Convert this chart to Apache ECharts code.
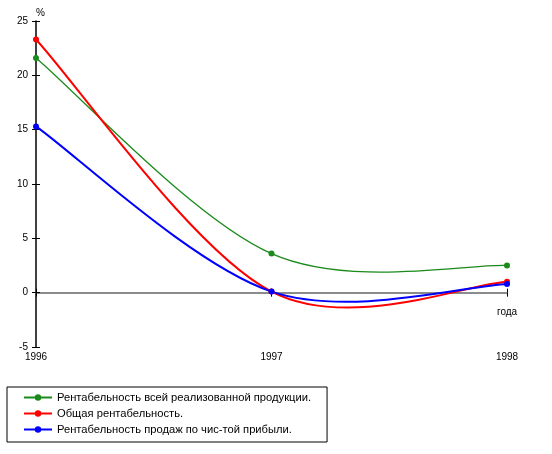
<!DOCTYPE html>
<html><head><meta charset="utf-8">
<script src="https://cdn.jsdelivr.net/npm/echarts@6/dist/echarts.min.js"></script>
<style>html,body{margin:0;padding:0;background:#fff}#c{width:552px;height:454px}</style>
</head><body><div id="c"></div>
<script>
const years = ['1996', '1997', '1998'];
const seriesNames = [
  'Рентабельность всей реализованной продукции.',
  'Общая рентабельность.',
  'Рентабельность продаж по чис-той прибыли.'
];
const greenValues = [21.6, 3.6, 2.5];
const redValues = [23.3, 0.1, 1.0];
const blueValues = [15.3, 0.1, 0.8];
const yTicks = { min: -5, max: 25, interval: 5 };

const font = 'Liberation Sans, Arial, sans-serif';
const chart = echarts.init(document.getElementById('c'));

// markers + legend entries (line itself drawn by the smooth custom series)
const mkPoints = (name, data, color, width) => ({
  name, type: 'line', data, smooth: false,
  symbol: 'circle', symbolSize: 6, showSymbol: true,
  lineStyle: { color, width, opacity: 0 }, itemStyle: { color }, z: 6
});
// Excel-like Catmull-Rom smoothed curve through the data, via the axis scales
const mkCurve = (name, vals, color, width) => ({
  name, type: 'custom', data: vals.map((v, i) => [i, v]), z: 5,
  silent: true,
  renderItem: (params, api) => {
    const i = params.dataIndex, n = vals.length;
    if (i >= n - 1) return null;
    const c = k => { k = Math.max(0, Math.min(n - 1, k)); return api.coord([k, vals[k]]); };
    const p0 = c(i - 1), p1 = c(i), p2 = c(i + 1), p3 = c(i + 2);
    return {
      type: 'bezierCurve',
      shape: {
        x1: p1[0], y1: p1[1], x2: p2[0], y2: p2[1],
        cpx1: p1[0] + (p2[0] - p0[0]) / 6, cpy1: p1[1] + (p2[1] - p0[1]) / 6,
        cpx2: p2[0] - (p3[0] - p1[0]) / 6, cpy2: p2[1] - (p3[1] - p1[1]) / 6
      },
      style: { stroke: color, lineWidth: width, fill: null }
    };
  }
});

chart.setOption({
  animation: false,
  textStyle: { fontFamily: font },
  grid: { left: 36, right: 45, top: 21, bottom: 107 },
  xAxis: [
    { type: 'category', data: years, boundaryGap: false, position: 'bottom',
      axisLine: { show: false, onZero: false }, axisTick: { show: false },
      axisLabel: { color: '#000', fontSize: 10, margin: 5, fontFamily: font } },
    { type: 'category', data: years, boundaryGap: false,
      axisLine: { show: true, onZero: true, lineStyle: { color: '#666', width: 1.5 } },
      axisTick: { show: true, inside: true, length: 4, lineStyle: { color: '#000' } },
      axisLabel: { show: false } },
    { type: 'category', data: years, boundaryGap: false,
      axisLine: { show: false, onZero: true },
      axisTick: { show: true, inside: false, length: 4, lineStyle: { color: '#000' } },
      axisLabel: { show: false } }
  ],
  yAxis: [
    { type: 'value', min: yTicks.min, max: yTicks.max, interval: yTicks.interval,
      name: '%', nameGap: 3, nameTextStyle: { color: '#000', fontSize: 10, fontFamily: font, align: 'left', padding: [0, 0, 0, 0] },
      axisLine: { show: true, lineStyle: { color: '#000', width: 1.5 } },
      axisTick: { show: true, length: 4, lineStyle: { color: '#000' } },
      axisLabel: { color: '#000', fontSize: 10, margin: 8, fontFamily: font },
      splitLine: { show: false } },
    { type: 'value', min: yTicks.min, max: yTicks.max, interval: yTicks.interval,
      position: 'left',
      axisLine: { show: false }, axisTick: { show: true, inside: true, length: 4, lineStyle: { color: '#000' } },
      axisLabel: { show: false }, splitLine: { show: false } }
  ],
  legend: {
    orient: 'vertical', left: 7, top: 387,
    padding: [5, 16, 7, 16], itemGap: 5, itemWidth: 28, itemHeight: 8,
    borderColor: '#000', borderWidth: 1,
    lineStyle: { opacity: 1 },
    textStyle: { color: '#000', fontSize: 11.2, fontFamily: font },
    data: seriesNames
  },
  graphic: [{ type: 'text', left: 497, top: 307,
    style: { text: 'года', fill: '#000', font: '10px ' + font } }],
  series: [
    mkPoints(seriesNames[0], greenValues, '#1a8a1a', 1.3),
    mkPoints(seriesNames[1], redValues, '#ff0000', 2),
    mkPoints(seriesNames[2], blueValues, '#0000ff', 2),
    mkCurve(seriesNames[0], greenValues, '#1a8a1a', 1.3),
    mkCurve(seriesNames[1], redValues, '#ff0000', 2),
    mkCurve(seriesNames[2], blueValues, '#0000ff', 2)
  ]
});
</script></body></html>
